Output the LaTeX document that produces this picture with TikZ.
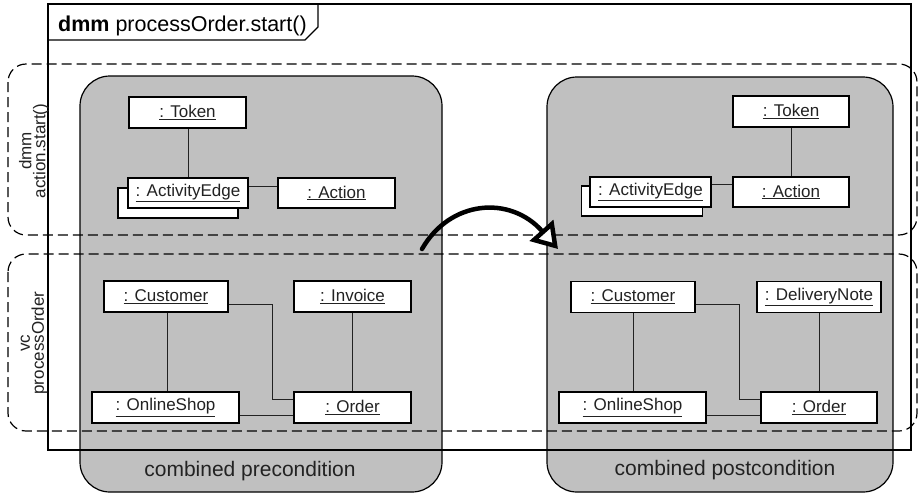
\documentclass[tikz,border=0pt]{standalone}
\usepackage{fontspec}
\setmainfont{Liberation Sans}
\usetikzlibrary{arrows.meta}
\definecolor{panelgray}{HTML}{C0C0C0}
\definecolor{inkgray}{HTML}{222222}
\tikzset{
  obj/.style={draw=black, fill=white, line width=1.2pt, minimum height=31pt,
    inner sep=0pt, font=\fontsize{17}{20}\selectfont, text=inkgray},
  link/.style={draw=inkgray, line width=1pt},
  panel/.style={draw=black, fill=panelgray, line width=1.2pt, rounded corners=30pt},
  region/.style={draw=black, line width=1.2pt, dash pattern=on 10pt off 5pt, rounded corners=18pt},
  regionlabel/.style={rotate=90, align=center, font=\fontsize{17}{14}\selectfont, text=inkgray},
  panellabel/.style={font=\fontsize{21}{24}\selectfont, text=inkgray}
}
\begin{document}
\begin{tikzpicture}[x=1pt, y=-1pt]
\useasboundingbox (0,0) rectangle (922,496);

% two condition panels
\draw[panel] (80,76) rectangle (442,492);
\draw[panel] (547,77) rectangle (893,492);
\node[panellabel] (pre) at (250,471) {combined precondition};
\node[panellabel] (post) at (725,470) {combined postcondition};

% frame with its name tab
\draw[line width=1.2pt] (48,4) rectangle (911,450);
\draw[line width=1.2pt] (48,40) -- (305,40) -- (318,27) -- (318,4);
\node[anchor=base west, inner sep=0pt, font=\fontsize{21.5}{24}\selectfont] (title) at (58,31)
  {\textbf{dmm} processOrder.start()};

% dashed regions
\draw[region] (8,64) rectangle (917,235);
\draw[region] (8,254) rectangle (917,431);
\node[regionlabel] (lblA) at (34,151) {dmm\\action.start()};
\node[regionlabel] (lblB) at (34,343) {vc\\processOrder};

% precondition objects
\node[obj, minimum width=117pt] (tokL) at (187.5,112.5) {\underline{: Token}};
\node[obj, minimum width=120pt, minimum height=30pt] (aeLb) at (178,203) {};
\node[obj, minimum width=120pt, minimum height=30pt] (aeL) at (188,193) {\underline{: ActivityEdge}};
\node[obj, minimum width=117pt, minimum height=30pt] (actL) at (336.5,193) {\underline{: Action}};
\node[obj, minimum width=124pt] (cusL) at (166,296.5) {\underline{: Customer}};
\node[obj, minimum width=117pt] (invL) at (352.5,296.5) {\underline{: Invoice}};
\node[obj, minimum width=147pt] (shopL) at (165.5,407.5) {\underline{: OnlineShop}};
\node[obj, minimum width=117pt] (ordL) at (352.5,407.5) {\underline{: Order}};

\draw[link] (tokL.south -| aeL.north) -- (aeL.north);
\draw[link] ([yshift=7pt]aeL.east) -- ([yshift=7pt]actL.west);
\draw[link] ([xshift=1pt]cusL.south) -- ([xshift=1pt]cusL.south |- shopL.north);
\draw[link] ([yshift=-7.5pt]cusL.east) -- ++(44,0) |- ([yshift=8.5pt]ordL.west);
\draw[link] ([yshift=-7.5pt]shopL.east) -- ([yshift=-7.5pt]ordL.west);
\draw[link] (invL.south) -- (ordL.north);

% postcondition objects
\node[obj, minimum width=116pt] (tokR) at (791,111.5) {\underline{: Token}};
\node[obj, minimum width=121pt, minimum height=30pt] (aeRb) at (642,201) {};
\node[obj, minimum width=121pt, minimum height=30pt] (aeR) at (650.5,192) {\underline{: ActivityEdge}};
\node[obj, minimum width=116pt, minimum height=30pt] (actR) at (791,192) {\underline{: Action}};
\node[obj, minimum width=124pt] (cusR) at (633,297) {\underline{: Customer}};
\node[obj, minimum width=124pt] (dnR) at (819,297) {\underline{: DeliveryNote}};
\node[obj, minimum width=147pt] (shopR) at (632.5,407.5) {\underline{: OnlineShop}};
\node[obj, minimum width=116pt] (ordR) at (819,407.5) {\underline{: Order}};

\draw[link] (tokR.south) -- (actR.north);
\draw[link] ([yshift=8pt]aeR.east) -- ([yshift=8pt]actR.west);
\draw[link] (cusR.south) -- (cusR.south |- shopR.north);
\draw[link] ([yshift=-7pt]cusR.east) -- ++(44,0) |- ([yshift=8.5pt]ordR.west);
\draw[link] ([yshift=-7.5pt]shopR.east) -- ([yshift=-7.5pt]ordR.west);
\draw[link] (dnR.south) -- (ordR.north);

% transformation arrow
\coordinate (arrFrom) at (422,249);
\coordinate (arrTo) at (558,249);
\draw[line width=4.5pt, line cap=round,
  -{Triangle[length=25pt, width=31pt, fill=white, line join=miter]}]
  (arrFrom) .. controls (450,200) and (510,195) .. (arrTo);
\end{tikzpicture}
\end{document}
